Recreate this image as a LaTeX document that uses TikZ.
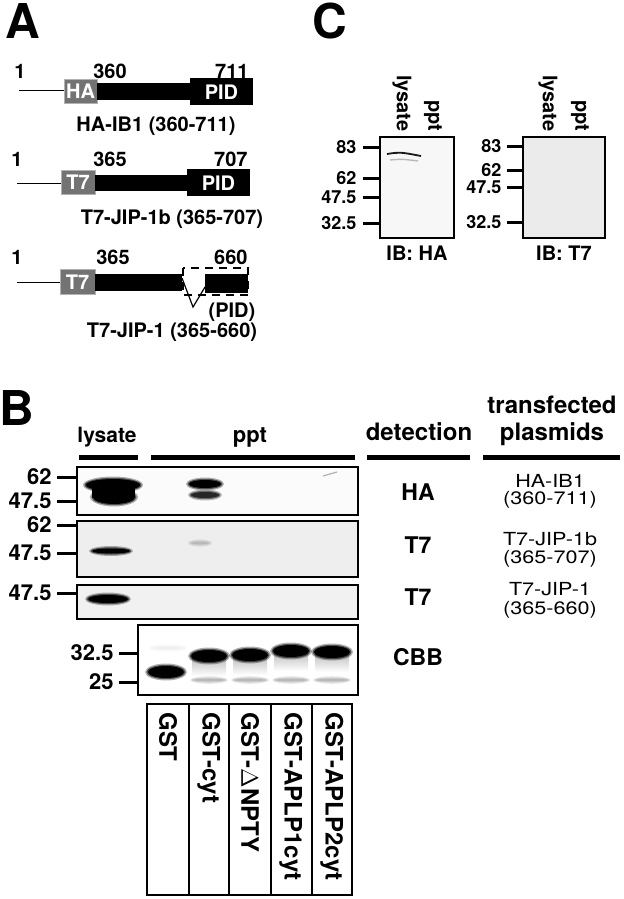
\documentclass[tikz,border=0pt]{standalone}
\usepackage{fontspec}
\setmainfont{TeX Gyre Heros}
\usepackage{tikz}

% soft gel band: x, y, x-radius, y-radius, colour
\newcommand{\gelband}[5]{%
    \fill[#5, opacity=0.3] (#1,#2) ellipse ({#3+3} and {#4+2.5});
    \fill[#5, opacity=0.55] (#1,#2) ellipse ({#3+1.5} and {#4+1.2});
    \fill[#5] (#1,#2) ellipse (#3 and #4);
}

\begin{document}
\begin{tikzpicture}[x=0.5pt, y=-0.5pt,
    panel/.style={font=\fontsize{24}{24}\selectfont\bfseries},
    num/.style={font=\fontsize{10}{12}\selectfont\bfseries, inner sep=0pt},
    tagtext/.style={font=\fontsize{10}{12}\selectfont\bfseries, text=white, inner sep=0pt},
    bigmark/.style={font=\fontsize{11}{12}\selectfont\bfseries, anchor=east, inner sep=0pt},
    smallmark/.style={font=\fontsize{9}{10}\selectfont\bfseries, anchor=east, inner sep=0pt},
    lane/.style={font=\fontsize{12}{12}\selectfont\bfseries, rotate=-90, anchor=west, inner sep=0pt},
    head/.style={font=\fontsize{12}{14}\selectfont\bfseries, inner sep=0pt},
    detect/.style={font=\fontsize{11.5}{12}\selectfont\bfseries, inner sep=0pt},
    plasmid/.style={font=\fontsize{9}{11}\selectfont, inner sep=0pt, xscale=1.2},
    gel/.style={draw=black, line width=1pt},
    tickline/.style={line width=1.5pt},
    bar/.style={line width=2.5pt}]
    \useasboundingbox (0,0) rectangle (624,899);

    % panel A
    \node[panel] (A) at (23,21) {A};
    \draw[line width=0.5pt] (19,91) coordinate (a1_start) -- (64,91) coordinate (a1_tag);
    \filldraw[fill=gray!90!black, draw=gray!60] (64,79) rectangle (97,103);
    \fill (97,83) rectangle (190,100);
    \fill (190,78) rectangle (253,105);
    \node[tagtext] (ha_tag) at (80.5,91) {HA};
    \node[tagtext] (pid_1) at (221.5,92) {PID};
    \node[num] (one_1) at (20,71) {1};
    \node[num] (n360) at (110,71) {360};
    \node[num, anchor=east] (n711) at (249,71) {711};
    \node[num] (ib1) at (156,126) {HA-IB1 (360-711)};

    \draw[line width=0.5pt] (17,183) coordinate (a2_start) -- (61,183) coordinate (a2_tag);
    \filldraw[fill=gray!90!black, draw=gray!60] (61,170) rectangle (95,194);
    \fill (95,175) rectangle (187,191);
    \fill (187,169) rectangle (250,196);
    \node[tagtext] (t7_tag1) at (78,182) {T7};
    \node[tagtext] (pid_2) at (218.5,183) {PID};
    \node[num] (one_2) at (17,159) {1};
    \node[num] (n365) at (110,159) {365};
    \node[num, anchor=east] (n707) at (248,159) {707};
    \node[num] (jip1b) at (172,219) {T7-JIP-1b (365-707)};

    \draw[line width=0.5pt] (17,282) coordinate (a3_start) -- (60,282) coordinate (a3_tag);
    \filldraw[fill=gray!90!black, draw=gray!60] (60,269) rectangle (95,294);
    \fill (95,274) rectangle (182,291);
    \fill (205,274) rectangle (248,293);
    \draw[line width=0.6pt] (182,278) coordinate (v_in) -- (193,307) coordinate (v_tip) -- (205,287) coordinate (v_out);
    \draw[dashed, line width=0.6pt, dash pattern=on 4pt off 3pt] (183,268) rectangle (248,295);
    \node[tagtext] (t7_tag2) at (77.5,282) {T7};
    \node[num] (one_3) at (17,257) {1};
    \node[num] (n365b) at (113,257) {365};
    \node[num, anchor=east] (n660) at (248,257) {660};
    \node[num] (pid_3) at (232,312) {(PID)};
    \node[num] (jip1) at (172,332) {T7-JIP-1 (365-660)};

    % panel C
    \node[panel] (C) at (330,21) {C};
    \draw[gel, fill=gray!6] (380,137) rectangle (454,238);
    \draw[gel, fill=gray!16] (523,137) rectangle (605,238);
    \node[num, rotate=-90, anchor=east] (c_lys1) at (402,132) {lysate};
    \node[num, rotate=-90, anchor=east] (c_ppt1) at (433,132) {ppt};
    \node[num, rotate=-90, anchor=east] (c_lys2) at (548,132) {lysate};
    \node[num, rotate=-90, anchor=east] (c_ppt2) at (580,132) {ppt};
    \draw[gray!20!black, line width=0.9pt] (387,154) .. controls (400,152) .. (421,156);
    \draw[gray!55, line width=0.7pt] (390,160) .. controls (402,159) .. (418,161);
    \foreach \y/\t in {147/83, 178/62, 197/47.5, 223/32.5}
        \draw[tickline] (363,\y) -- (380,\y) node[smallmark] at (358,\y) {\t};
    \foreach \y/\t in {146/83, 170/62, 187/47.5, 222/32.5}
        \draw[tickline] (507,\y) -- (523,\y) node[smallmark] at (503,\y) {\t};
    \node[num] (ib_ha) at (417,253) {IB: HA};
    \node[num] (ib_t7) at (564,253) {IB: T7};

    % panel B
    \node[panel] (B) at (17,408) {B};
    \node[font=\fontsize{10.5}{12}\selectfont\bfseries, inner sep=0pt, anchor=base] (lys) at (107,442) {lysate};
    \node[font=\fontsize{11}{12}\selectfont\bfseries, inner sep=0pt, anchor=base] (ppt) at (250,442) {ppt};
    \node[head, anchor=base] (detection) at (419,440) {detection};
    \node[head, anchor=base] (transf) at (552,413) {transfected};
    \node[head, anchor=base] (plasm) at (552,440) {plasmids};
    \draw[bar] (79,457) -- (138,457);
    \draw[bar] (151,457) -- (355,457);
    \draw[bar] (367,457) -- (470,457);
    \draw[bar] (483,457) -- (620,457);

    \draw[gel, fill=gray!3] (77,467) rectangle (358,515);
    \draw[gel, fill=gray!13] (77,521) rectangle (358,577);
    \draw[gel, fill=gray!11] (77,585) rectangle (358,619);
    \draw[gel, fill=white] (138,625) rectangle (358,695);

    % bands, HA blot
    \gelband{113}{485}{27}{6}{black}
    \gelband{114}{497}{21}{7}{black}
    \fill (92,484) rectangle (135,498);
    \gelband{205}{484}{16}{4}{black}
    \gelband{205}{495}{14}{3}{gray!30!black}
    \draw[gray!60, line width=0.6pt] (323,476) -- (337,472);
    % T7 blots
    \gelband{111}{551}{19}{2.5}{black}
    \gelband{200}{543}{9}{1.2}{gray!55}
    \gelband{108}{599}{20}{4}{black}

    % CBB
    \gelband{168}{648}{16}{1}{gray!12}
    \gelband{166}{672}{18}{6}{black}
    \foreach \x/\y in {209/656, 250/655, 291/651, 332/652} {
        \shade[top color=gray!55, bottom color=white] (\x-17,\y) rectangle (\x+17,\y+20);
        \gelband{\x}{\y}{18}{6}{black}
        \gelband{\x}{680}{16}{1.3}{gray!55}
    }

    \foreach \y/\t in {477/62, 501/47.5, 525/62, 553/47.5, 593/47.5}
        \draw[tickline] (57,\y) -- (77,\y) node[bigmark] at (53,\y) {\t};
    \foreach \y/\t in {653/32.5, 682/25}
        \draw[tickline] (119,\y) -- (138,\y) node[bigmark] at (115,\y) {\t};

    % lanes
    \draw[line width=1pt] (147,704) rectangle (352,895);
    \foreach \x in {189, 229, 271, 312}
        \draw[line width=1pt] (\x,704) -- (\x,895);
    \node[lane] (gst) at (168,712) {GST};
    \node[lane] (gst_cyt) at (209,712) {GST-cyt};
    \node[lane] (gst_dnpty) at (250,712) {GST-$\Delta$NPTY};
    \node[lane] (gst_aplp1) at (291,712) {GST-APLP1cyt};
    \node[lane] (gst_aplp2) at (332,712) {GST-APLP2cyt};

    % detection and plasmids
    \node[detect] (det_ha) at (418,492) {HA};
    \node[detect] (det_t7a) at (418,545) {T7};
    \node[detect] (det_t7b) at (418,597) {T7};
    \node[detect] (cbb) at (418,657) {CBB};
    \node[plasmid] (p1a) at (550,481) {HA-IB1};
    \node[plasmid] (p1b) at (550,500) {(360-711)};
    \node[plasmid] (p2a) at (550,539) {T7-JIP-1b};
    \node[plasmid] (p2b) at (550,559) {(365-707)};
    \node[plasmid] (p3a) at (550,589) {T7-JIP-1};
    \node[plasmid] (p3b) at (550,610) {(365-660)};
\end{tikzpicture}
\end{document}
